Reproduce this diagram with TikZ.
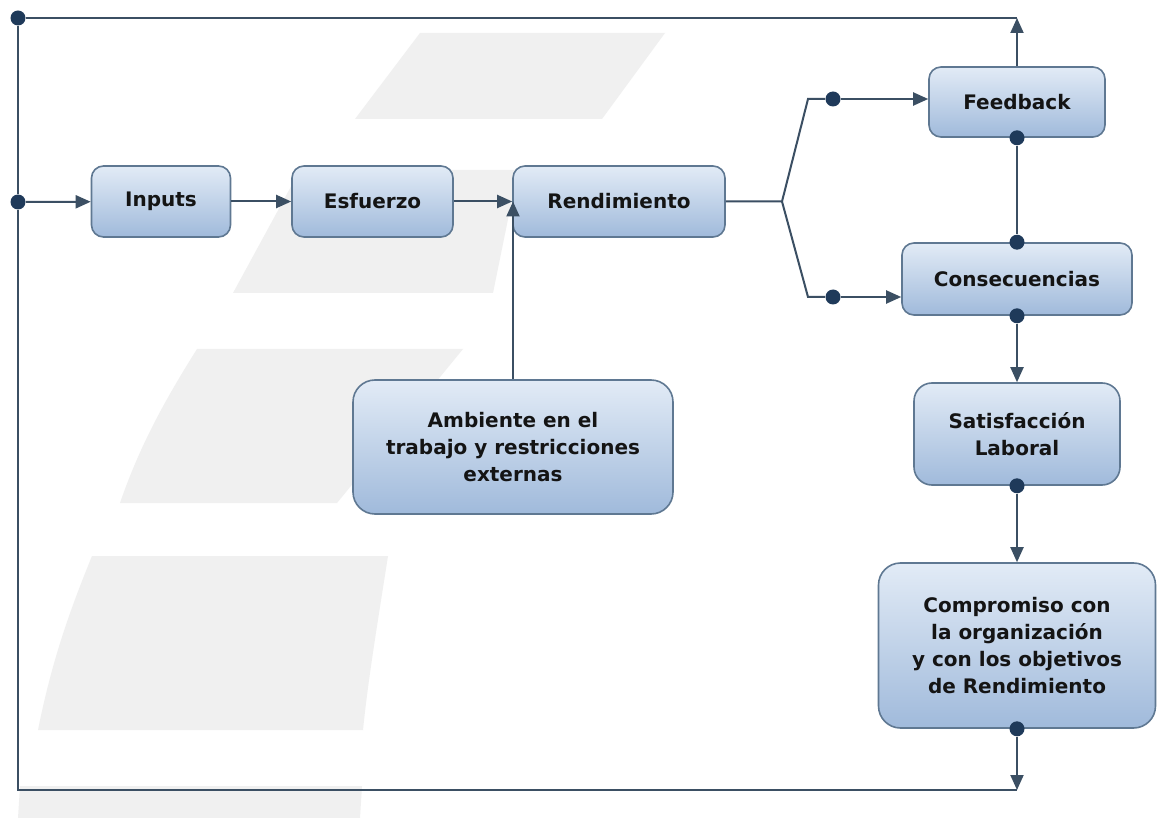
\documentclass[tikz,border=0pt]{standalone}
\usepackage{fontspec}
\setmainfont{DejaVu Sans}
\usetikzlibrary{arrows.meta,positioning}
\definecolor{LinkSlate}{HTML}{3B4F63}
\definecolor{DotNavy}{HTML}{1F3A5A}
\definecolor{BoxEdge}{HTML}{5F7892}
\definecolor{BoxTop}{HTML}{E2EBF6}
\definecolor{BoxBottom}{HTML}{A0BADB}
\definecolor{MarkGrey}{HTML}{F0F0F0}
\tikzset{
  stage/.style={draw=BoxEdge,line width=.8pt,top color=BoxTop,bottom color=BoxBottom,
    rounded corners=6pt,inner sep=0pt,align=center,text=black!92,
    font=\bfseries\fontsize{10}{13.6}\selectfont},
  bigstage/.style={stage,rounded corners=11pt},
  link/.style={draw=LinkSlate,line width=1pt},
  flow/.style={link,-{Triangle[length=7.5pt,width=6.5pt]}},
  jdot/.style={circle,fill=DotNavy,inner sep=0pt,minimum size=7.5pt},
  watermark/.style={fill=MarkGrey}
}

\begin{document}
\begin{tikzpicture}[x=.5pt,y=-.5pt]
  \fill[white] (0,0) rectangle (1157,818);
  % faint background marks
  \fill[watermark] (420,33) -- (665,33) -- (602,119) -- (355,119) -- cycle;
  \fill[watermark] (300,170) -- (518,170) -- (493,293) -- (233,293) -- cycle;
  \fill[watermark] (197,349) -- (463,349) -- (337,503) -- (120,503)
    .. controls (140,445) and (165,400) .. cycle;
  \fill[watermark] (92,556) -- (388,556) .. controls (378,620) and (368,680) .. (363,730)
    -- (38,730) .. controls (52,660) and (70,610) .. cycle;
  \fill[watermark] (20,786) -- (362,786) -- (360,818) -- (18,818) -- cycle;

  % stages
  \node[stage,minimum width=69.5pt,minimum height=35.5pt] (inputs) at (161,201.5) {Inputs};
  \node[stage,minimum width=80.5pt,minimum height=35.5pt] (esfuerzo) at (372.5,201.5) {Esfuerzo};
  \node[stage,minimum width=106pt,minimum height=35.5pt] (rend) at (619,201.5) {Rendimiento};
  \node[stage,minimum width=88pt,minimum height=35pt] (feedback) at (1017,102) {Feedback};
  \node[stage,minimum width=115pt,minimum height=36pt] (conse) at (1017,279) {Consecuencias};
  \node[bigstage,rounded corners=9pt,minimum width=103pt,minimum height=51pt] (satis) at (1017,434)
    {Satisfacción\\Laboral};
  \node[bigstage,minimum width=138.5pt,minimum height=82.5pt] (compro) at (1017,645.5)
    {Compromiso con\\la organización\\y con los objetivos\\de Rendimiento};
  \node[bigstage,minimum width=160pt,minimum height=67pt] (ambiente) at (513,447)
    {Ambiente en el\\trabajo y restricciones\\externas};

  % junction dots
  \node[jdot] (dTL) at (18,18) {};
  \node[jdot] (dIn) at (18,202) {};
  \node[jdot] (dUp) at (833,99) {};
  \node[jdot] (dLo) at (833,297) {};
  \node[jdot] (dFb) at (feedback.south) {};
  \node[jdot] (dCnTop) at (conse.north) {};
  \node[jdot] (dCnBot) at (conse.south) {};
  \node[jdot] (dSat) at (satis.south) {};
  \node[jdot] (dComp) at (compro.south) {};

  \coordinate (topR) at (1017,18);
  \coordinate (botL) at (18,790);
  \coordinate (botR) at (1017,790);
  \coordinate (split) at (782,201.5);
  \coordinate (bendUp) at (808,99);
  \coordinate (bendLo) at (808,297);

  % main chain
  \draw[flow] (dIn) -- (inputs);
  \draw[flow] (inputs) -- (esfuerzo);
  \draw[flow] (esfuerzo) -- (rend);
  \draw[flow] (ambiente) -- (ambiente.north |- rend.west);
  \draw[link] (rend) -- (split) -- (bendUp) -- (dUp);
  \draw[link] (split) -- (bendLo) -- (dLo);
  \draw[flow] (dUp) -- (feedback.west |- dUp);
  \draw[flow] (dLo) -- (conse.west |- dLo);
  \draw[link] (dFb) -- (dCnTop);
  \draw[flow] (dCnBot) -- (satis);
  \draw[flow] (dSat) -- (compro);

  % outer loop
  \draw[flow] (feedback) -- (topR);
  \draw[link] (dTL) -- (topR);
  \draw[link] (dTL) -- (dIn);
  \draw[link] (dIn) -- (botL) -- (botR);
  \draw[flow] (dComp) -- (botR);
\end{tikzpicture}
\end{document}
